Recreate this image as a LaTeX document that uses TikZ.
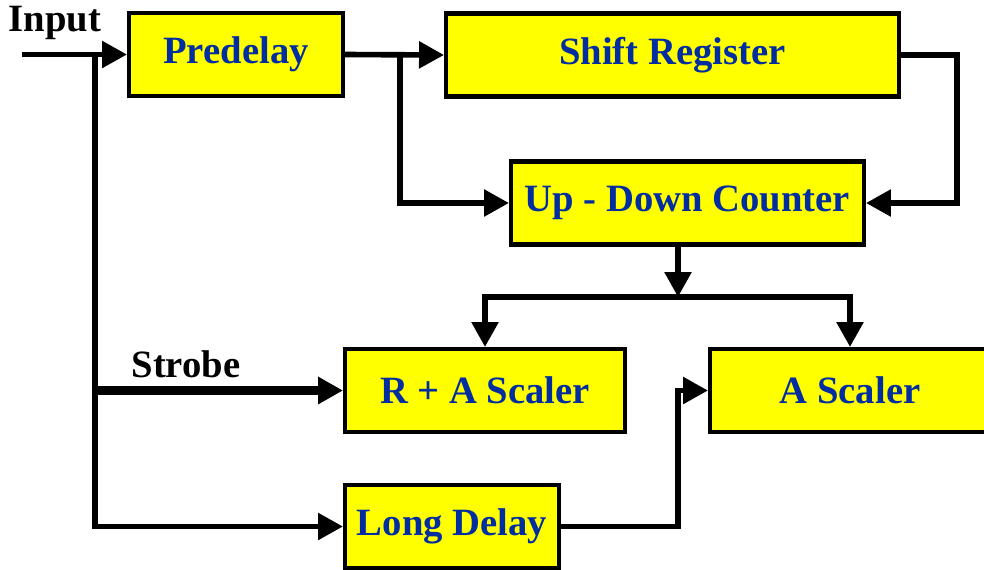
\documentclass[tikz,border=0pt]{standalone}
\usepackage{fontspec}
\setmainfont{Liberation Serif}
\usetikzlibrary{arrows.meta}

\definecolor{labelblue}{RGB}{0,45,160}
\definecolor{boxyellow}{RGB}{255,255,0}
\tikzset{block/.style={
    	draw=black, line width=2.3pt, fill=boxyellow,
    	text=labelblue, font=\fontsize{22}{26}\selectfont\bfseries,
    	minimum height=1.66cm, inner sep=0pt
  	},
  	wire/.style={line width=3.2pt, ->},
  	strobewire/.style={line width=4.8pt, ->}
}

\begin{document}
\begin{tikzpicture}[x=0.02cm, y=-0.02cm, >={Triangle[length=0.5cm, width=0.52cm]}]
  		\useasboundingbox (0,0) rectangle (984,569);
		% blocks
		\node [block, minimum width=4.28cm] (pre) at (236,54.5) {Predelay};
		\node [block, minimum width=9.06cm] (shift) at (672.5,55) {Shift Register};
		\node [block, minimum width=7.06cm] (count) at (687.5,203) {Up - Down Counter};
		\node [block, minimum width=5.6cm] (ra) at (485,390.5) {R + A Scaler};
		\node [block, minimum width=5.6cm] (asc) at (850,390.5) {A Scaler};
		\node [block, minimum width=4.28cm] (ld) at (452,526.5) {Long Delay};
		% labels
		\node [font=\fontsize{22}{26}\selectfont\bfseries] (inlabel) at (55,23) {Input};
		\node [font=\fontsize{22}{26}\selectfont\bfseries] (strlabel) at (186,364) {Strobe};
		% branch points
		\coordinate (in) at (22,54.5);
		\coordinate (tap) at (95,54.5);
		\coordinate (split) at (400,54.5);
		\coordinate (fork) at (678,297);
		% connectors
		\draw [wire] (in) -- (pre.west);
		\draw [wire] (tap) |- (ld.west);
		\draw [strobewire] (tap |- ra.west) -- (ra.west);
		\draw [wire] (pre.east) -- (shift.west);
		\draw [wire] (split) |- (count.west);
		\draw [wire] (shift.east) -- ++(56,0) |- (count.east);
		\draw [wire] (count.south -| fork) -- (fork);
		\draw [wire] (fork) -| (ra.north);
		\draw [wire] (fork) -| (asc.north);
		\draw [wire] (ld.east) -- (ld.east -| fork) |- (asc.west);
	\end{tikzpicture}
\end{document}
